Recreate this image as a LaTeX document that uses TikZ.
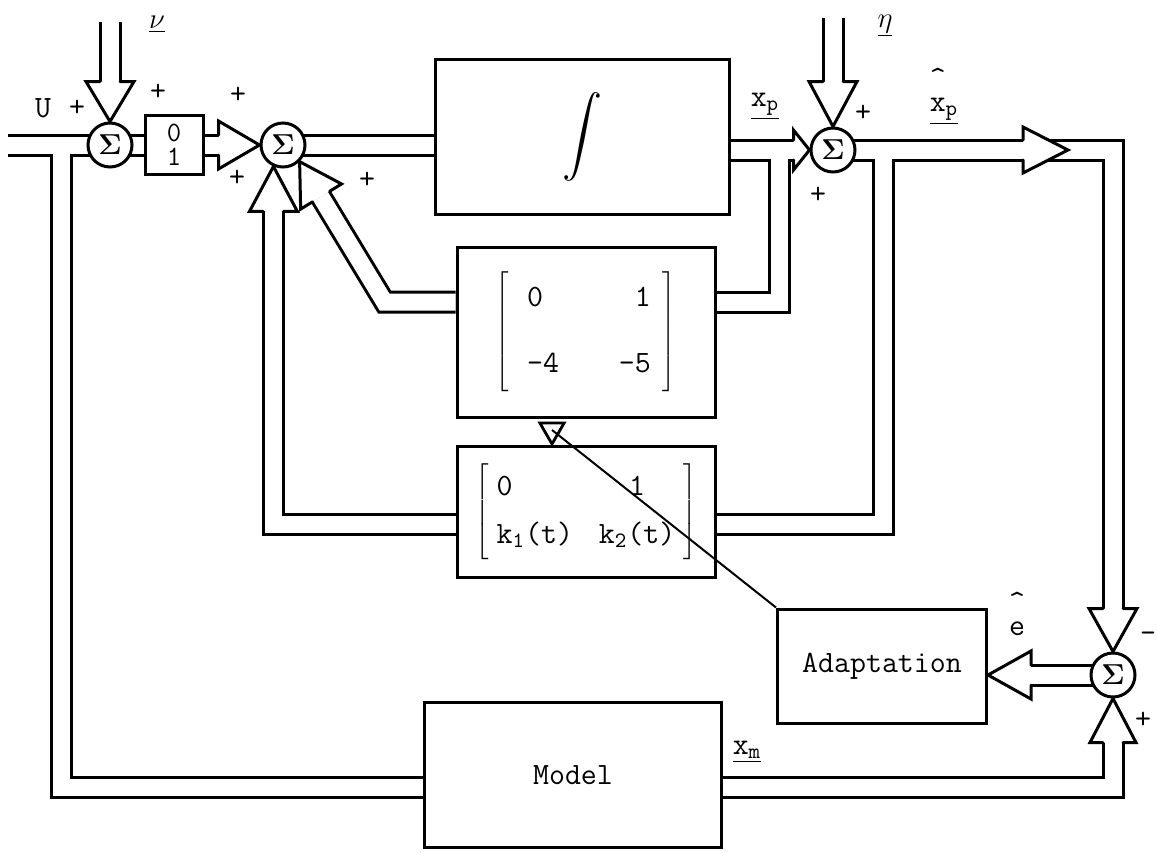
\documentclass[tikz,border=0pt]{standalone}
\usepackage{graphicx}
\usetikzlibrary{shapes.geometric}
\pgfdeclarelayer{bg}
\pgfsetlayers{bg,main}
\newcommand{\dfont}{\fontsize{15.5}{18}\selectfont\ttfamily}

\begin{document}
\begin{tikzpicture}[x=0.5pt,y=-0.5pt,
  block/.style={draw,line width=1.5pt,fill=white,inner sep=0pt,font=\dfont},
  sum/.style={draw,circle,line width=1.5pt,fill=white,minimum size=22pt,inner sep=0pt,font=\dfont},
  pipe/.style={line width=1.5pt,double=white,double distance=8.5pt},
  lbl/.style={inner sep=1pt,font=\dfont},
  adjtri/.style={draw,regular polygon,regular polygon sides=3,shape border rotate=180,
    line width=1.4pt,minimum size=14pt,inner sep=0pt},
  pics/hollowhead/.style args={#1/#2}{code={
    \draw[line width=1.5pt,fill=white,line cap=round]
      (-#1,-10) -- (-#1,-#2) -- (0,0) -- (-#1,#2) -- (-#1,10);}}]
\useasboundingbox (0,0) rectangle (1157,852);
\node[sum] (sig1) at (110,145) {$\mathbf{\Sigma}$};
\node[block,minimum width=29pt,minimum height=29.5pt,align=center,
  font=\fontsize{14}{12}\selectfont\ttfamily] (gain) at (174,145) {0\\1};
\node[sum] (sig2) at (283,145) {$\mathbf{\Sigma}$};
\node[block,minimum width=147pt,minimum height=77.5pt] (integ) at (582,137)
  {\scalebox{2}{$\displaystyle\int$}};
\node[sum] (sigN) at (833,150) {$\mathbf{\Sigma}$};
\node[block,minimum width=129pt,minimum height=85pt] (amat) at (586,332)
  {$\left[\rule[-27pt]{0pt}{61pt}\mbox{\dfont\begin{tabular}{@{\hspace{9pt}}l@{\hspace{30pt}}r@{\hspace{6pt}}}
   0&1\\[15pt]-4&-5\end{tabular}}\right]$};
\node[block,minimum width=129pt,minimum height=65.5pt] (kmat) at (586,512)
  {$\left[\rule[-19pt]{0pt}{46pt}\mbox{\dfont\begin{tabular}{@{\hspace{4pt}}l@{\hspace{13pt}}c@{\hspace{4pt}}}
   0&1\\[6pt]k$_{\mathtt{1}}$(t)&k$_{\mathtt{2}}$(t)\end{tabular}}\right]$};
\node[block,minimum width=104.5pt,minimum height=57pt] (adapt) at (882,666) {Adaptation};
\node[block,minimum width=148.5pt,minimum height=72.5pt] (model) at (573,775) {Model};
\node[sum] (sigE) at (1113,675) {$\mathbf{\Sigma}$};
\node[adjtri] (adj) at (552,430) {};
\coordinate (uin) at (8,145);
\coordinate (ubr) at (61,145);
\coordinate (nuin) at (110,22);
\coordinate (etain) at (833,18);
\coordinate (xpbr) at (779,150);
\coordinate (xhbr) at (883,150);
\coordinate (xhtip) at (1068,150);
\node[lbl] (uname) at (43,108) {U};
\node[lbl] (usgn) at (77,108) {+};
\node[lbl] (nuname) at (157,24) {$\underline{\nu}$};
\node[lbl] (nusgn) at (158,92) {+};
\node[lbl] (gsgn) at (238,95) {+};
\node[lbl] (ksgn) at (237,178) {+};
\node[lbl] (asgn) at (367,180) {+};
\node[lbl] (xpname) at (765,106) {\underline{x$_{\mathtt{p}}$}};
\node[lbl] (etaname) at (885,26) {$\underline{\eta}$};
\node[lbl] (etasgn) at (863,113) {+};
\node[lbl] (xpsgn) at (818,195) {+};
\node[lbl,align=left,font=\fontsize{15.5}{12}\selectfont\ttfamily] (xhname) at (944,96)
  {\^{}\\\underline{x$_{\mathtt{p}}$}};
\node[lbl,align=left,font=\fontsize{15.5}{12}\selectfont\ttfamily] (ehname) at (1017,614) {\^{}\\e};
\node[lbl] (esgnm) at (1148,637) {-};
\node[lbl] (esgnp) at (1143,720) {+};
\node[lbl] (xmname) at (747,752) {\underline{x$_{\mathtt{m}}$}};
\begin{pgfonlayer}{bg}
\draw[pipe] (uin) -- (sig1.center) (ubr) |- ([yshift=-6pt]model.west);
\draw[pipe,shorten >=20pt] (nuin) -- (sig1.north);
\draw[pipe] (sig1.center) -- (gain.center);
\draw[pipe,shorten >=20.5pt] (gain.center) -- (sig2.west);
\draw[pipe] (sig2.center) -- (sig2.center -| integ.center);
\draw[pipe,shorten >=8pt] (xpbr) |- ([yshift=15pt]amat.east) (sigN -| integ.center) -- (sigN.west);
\draw[pipe,shorten >=21.5pt] (xhbr) |- ([yshift=-6pt]kmat.east) (sigN.center) -| (sigE.north);
\draw[pipe,shorten >=22.5pt] (etain) -- (sigN.north);
\draw[pipe,shorten >=20.5pt] ([yshift=15pt]amat.west) -- ++(-71,0) -- (sig2.south east);
\draw[pipe,shorten >=22.5pt] ([yshift=-6pt]kmat.west) -| (sig2.246);
\draw[pipe,shorten >=22pt] ([yshift=-6pt]model.east) -| (sigE.south);
\draw[pipe,shorten >=21.5pt] (sigE.center) -- (sigE.center -| adapt.east);
\end{pgfonlayer}
\pic[rotate=-90] at (sig1.north) {hollowhead=40/24};
\pic at (sig2.west) {hollowhead=41/24};
\pic at (sigN.west) {hollowhead=16/20};
\pic[rotate=-90] at (sigN.north) {hollowhead=45/24};
\pic at (xhtip) {hollowhead=45/23};
\pic[rotate=-90] at (sigE.north) {hollowhead=43/24};
\pic[rotate=90] at (sigE.south) {hollowhead=44/23};
\pic[rotate=180] at (sigE.center -| adapt.east) {hollowhead=43/24};
\pic[rotate=90] at (sig2.246) {hollowhead=45/24};
\pic[rotate=121.6] at (sig2.south east) {hollowhead=41/24};
\draw[line width=1pt] (adapt.north west) -- (adj.center);
\end{tikzpicture}
\end{document}
